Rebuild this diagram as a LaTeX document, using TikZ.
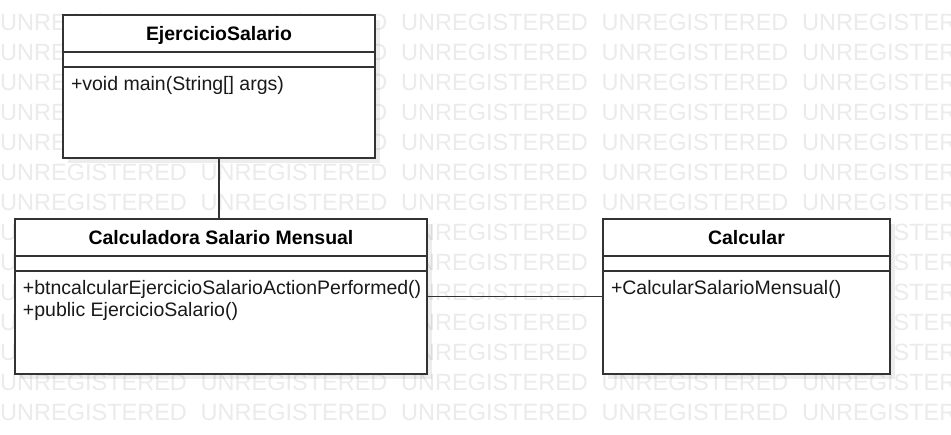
\documentclass[tikz,border=0pt]{standalone}
\usepackage{fontspec}
\setmainfont{Liberation Sans}
\begin{document}
\begin{tikzpicture}[x=1pt,y=-1pt,
  wm/.style={text=black!8, font=\fontsize{23.5}{24}\selectfont, inner sep=0pt, anchor=west},
  umlbox/.style={draw=black!80, line width=1.6pt, fill=white, anchor=north west, inner sep=0pt, outer sep=0pt},
  shadowbox/.style={fill=black, fill opacity=0.07, draw=none, anchor=north west, inner sep=0pt, outer sep=0pt},
  title/.style={font=\fontsize{19.45}{22.4}\selectfont\bfseries, text=black, anchor=base, inner sep=0pt},
  member/.style={font=\fontsize{19.5}{22.4}\selectfont, text=black!90, anchor=base west, inner sep=0pt},
  divider/.style={draw=black!80, line width=1.6pt},
  conn/.style={draw=black!80, line width=1.6pt}]
\useasboundingbox (0,0) rectangle (951,435);
\fill[white] (0,0) rectangle (951,435);
% watermark
\foreach \r in {0,...,13}
  \foreach \c in {0,...,4}
    \node[wm] (w-\r-\c) at (200.5*\c, 22.5+30*\r) {UNREGISTERED};
% shadows
\node[shadowbox, minimum width=312, minimum height=143] (s1) at (68,20) {};
\node[shadowbox, minimum width=412, minimum height=155] (s2) at (20,224) {};
\node[shadowbox, minimum width=287, minimum height=155] (s3) at (608,224) {};
% boxes
\node[umlbox, minimum width=312, minimum height=143] (b1) at (63,15) {};
\node[umlbox, minimum width=412, minimum height=155] (b2) at (15,219) {};
\node[umlbox, minimum width=287, minimum height=155] (b3) at (603,219) {};
% dividers
\foreach \b in {b1,b2,b3}{
  \draw[divider] ([yshift=-37pt]\b.north west) -- ([yshift=-37pt]\b.north east);
  \draw[divider] ([yshift=-52pt]\b.north west) -- ([yshift=-52pt]\b.north east);
}
% titles
\node[title] (t1) at ([yshift=-26pt]b1.north) {EjercicioSalario};
\node[title] (t2) at ([yshift=-26pt]b2.north) {Calculadora Salario Mensual};
\node[title] (t3) at ([yshift=-26pt]b3.north) {Calcular};
% members
\node[member] (m1) at ([xshift=7.8pt,yshift=-75.5pt]b1.north west) {+void main(String[] args)};
\node[member] (m2a) at ([xshift=7.8pt,yshift=-75.5pt]b2.north west) {+btncalcularEjercicioSalarioActionPerformed()};
\node[member] (m2b) at ([xshift=7.8pt,yshift=-97.9pt]b2.north west) {+public EjercicioSalario()};
\node[member] (m3) at ([xshift=7.8pt,yshift=-75.5pt]b3.north west) {+CalcularSalarioMensual()};
% connectors
\draw[conn] (b1.south) -- (b1.south |- b2.north);
\draw[conn] (b2.east) -- (b3.west);
\end{tikzpicture}
\end{document}
